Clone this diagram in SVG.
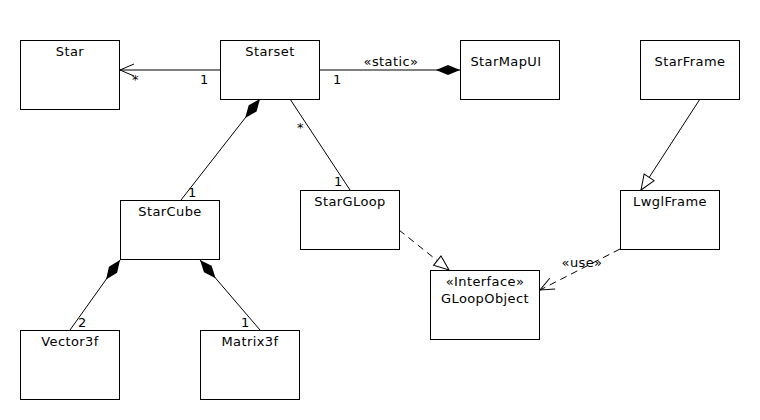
<svg xmlns="http://www.w3.org/2000/svg" width="760" height="420" viewBox="0 0 760 420">
<style>
.box{fill:#fff;stroke:#000;stroke-width:1}
.t{font-family:"DejaVu Sans",sans-serif;font-size:13px;letter-spacing:0.4px;fill:#000;text-anchor:middle}
.l{font-family:"DejaVu Sans",sans-serif;font-size:13px;fill:#000}
.c{stroke:#000;stroke-width:1;fill:none}
.d{stroke-dasharray:7,5}
</style>
<defs>
<marker id="open" markerWidth="16" markerHeight="14" refX="15" refY="7" orient="auto" markerUnits="userSpaceOnUse"><path d="M1,1 L15,7 L1,13" fill="none" stroke="#000"/></marker>
<marker id="tri" markerWidth="18" markerHeight="16" refX="16" refY="8" orient="auto" markerUnits="userSpaceOnUse"><path d="M1,2 L16,8 L1,14 Z" fill="#fff" stroke="#000"/></marker>
<marker id="dia" markerWidth="26" markerHeight="12" refX="24" refY="6" orient="auto" markerUnits="userSpaceOnUse"><path d="M0,6 L12,1 L24,6 L12,11 Z" fill="#000"/></marker>
</defs>
<rect width="760" height="420" fill="#fff"/>
<g id="connectors">
<line class="c" x1="220" y1="70" x2="120" y2="70" marker-end="url(#open)"/>
<line class="c" x1="319" y1="70" x2="460" y2="70" marker-end="url(#dia)"/>
<line class="c" x1="181" y1="200" x2="260" y2="99" marker-end="url(#dia)"/>
<line class="c" x1="290" y1="99" x2="350" y2="190"/>
<line class="c d" x1="399" y1="230" x2="449" y2="270" marker-end="url(#tri)"/>
<line class="c" x1="700" y1="99" x2="641" y2="190" marker-end="url(#tri)"/>
<line class="c d" x1="620" y1="249" x2="540" y2="290" marker-end="url(#open)"/>
<line class="c" x1="70" y1="330" x2="120" y2="260" marker-end="url(#dia)"/>
<line class="c" x1="260" y1="330" x2="200" y2="260" marker-end="url(#dia)"/>
<text class="l" x="132" y="84">*</text>
<text class="l" x="200" y="84">1</text>
<text class="l" x="333" y="84">1</text>
<text class="t" x="391" y="66">«static»</text>
<text class="l" x="188" y="197">1</text>
<text class="l" x="297" y="132">*</text>
<text class="l" x="334" y="186">1</text>
<text class="t" x="582" y="267">«use»</text>
<text class="l" x="78" y="327">2</text>
<text class="l" x="241" y="327">1</text>
</g>
<g id="Star"><rect class="box" x="20.5" y="40.5" width="99" height="69"/><text class="t" x="70" y="56">Star</text></g>
<g id="Starset"><rect class="box" x="220.5" y="40.5" width="99" height="59"/><text class="t" x="270" y="56">Starset</text></g>
<g id="StarMapUI"><rect class="box" x="460.5" y="40.5" width="99" height="59"/><text class="t" x="506" y="66">StarMapUI</text></g>
<g id="StarFrame"><rect class="box" x="640.5" y="40.5" width="99" height="59"/><text class="t" x="690" y="66">StarFrame</text></g>
<g id="StarCube"><rect class="box" x="120.5" y="200.5" width="99" height="59"/><text class="t" x="170" y="216">StarCube</text></g>
<g id="StarGLoop"><rect class="box" x="300.5" y="190.5" width="99" height="59"/><text class="t" x="350" y="206">StarGLoop</text></g>
<g id="LwglFrame"><rect class="box" x="620.5" y="190.5" width="99" height="59"/><text class="t" x="670" y="206">LwglFrame</text></g>
<g id="GLoopObject"><rect class="box" x="430.5" y="270.5" width="109" height="69"/><text class="t" x="485" y="286">«Interface»</text><text class="t" x="485" y="303">GLoopObject</text></g>
<g id="Vector3f"><rect class="box" x="20.5" y="330.5" width="99" height="69"/><text class="t" x="70" y="346">Vector3f</text></g>
<g id="Matrix3f"><rect class="box" x="200.5" y="330.5" width="99" height="69"/><text class="t" x="250" y="346">Matrix3f</text></g>
</svg>
